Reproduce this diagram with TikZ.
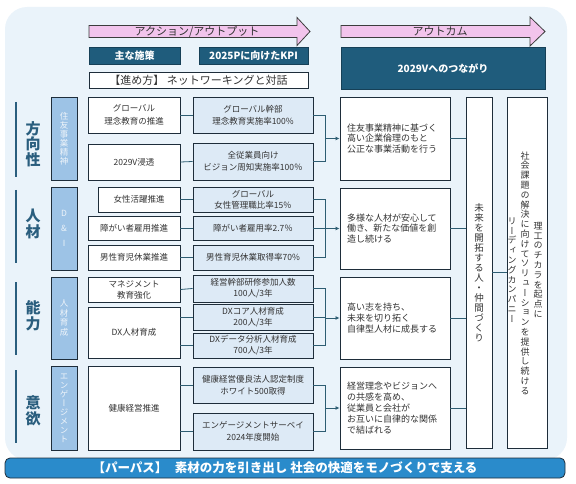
\documentclass[tikz,border=0pt]{standalone}
\usepackage{fontspec}
\usepackage{graphicx}
\setmainfont{Noto Sans CJK JP}
\newfontfamily\vjp[RawFeature=+vert]{Noto Sans CJK JP}
\usetikzlibrary{arrows.meta}
\definecolor{bgc}{HTML}{EAF3FA}
\definecolor{pinkc}{HTML}{F2C4EC}
\definecolor{hdrc}{HTML}{1F5C7C}
\definecolor{bordc}{HTML}{1E2D3A}
\definecolor{kpic}{HTML}{DDEAF6}
\definecolor{labc}{HTML}{9DC3E6}
\definecolor{labtxt}{HTML}{EEF4FA}
\definecolor{connc}{HTML}{2E5D72}
\definecolor{catc}{HTML}{2A5E7E}
\definecolor{barc}{HTML}{2A8BCB}
\definecolor{txtc}{HTML}{333333}
\definecolor{arrline}{HTML}{3C3C3C}
\newcommand\fz[2]{\fontsize{#1}{#2}\selectfont}
\makeatletter
\newcommand\vtxt[2]{\vbox{\baselineskip=#1\relax\lineskiplimit=-100pt\relax\@tfor\vt@c:=#2\do{\hbox to 1em{\hss\vt@c\hss}}}}
\makeatother
\tikzset{
 box/.style={draw=bordc, line width=0.9pt, inner sep=1pt, align=center, text=txtc},
 act/.style={box, fill=white, font=\fz{8.5}{12.5}},
 kpi/.style={box, fill=kpic, font=\fz{8.5}{12}},
 outbox/.style={box, fill=white, align=left, text width=96, inner xsep=7, font=\fz{9}{10.8}},
 lab/.style={draw=bordc, line width=0.9pt, fill=labc, inner sep=0, text=labtxt, minimum width=26},
 hdr/.style={fill=hdrc, draw=hdrc!70!black, line width=0.6pt, text=white, font=\bfseries\fz{10}{12}, inner sep=0},
 conn/.style={draw=connc, line width=0.8pt},
 arr/.style={conn, -{Latex[length=4pt,width=4pt]}},
 cat/.style={text=catc, font=\bfseries\fz{15}{15.5}, inner sep=0},
 catline/.style={draw=catc, line width=1.2pt},
 pinkarrow/.style={fill=pinkc, draw=arrline, line width=0.8pt},
}
\begin{document}
\begin{tikzpicture}[x=1pt,y=-1pt]
\useasboundingbox (0,0) rectangle (576,484);
\fill[bgc, rounded corners=22] (5,7) rectangle (567,460);

% pink arrows
\filldraw[pinkarrow] (89,25.5) -- (297,25.5) -- (297,17.5) -- (310,31.5) -- (297,45.5) -- (297,37.5) -- (89,37.5) -- cycle;
\node[font=\fz{11}{12}, text=txtc] (ar1) at (197,31.5) {アクション/アウトプット};
\filldraw[pinkarrow] (341,25.5) -- (530,25.5) -- (530,17) -- (545,31.5) -- (530,46) -- (530,37.5) -- (341,37.5) -- cycle;
\node[font=\fz{11}{12}, text=txtc] (ar2) at (440,31.5) {アウトカム};

% headers
\node[hdr, minimum width=91, minimum height=17] (h1) at (134.5,55.5) {主な施策};
\node[hdr, minimum width=109, minimum height=17] (h2) at (253.5,55.5) {2025Pに向けたKPI};
\node[hdr, minimum width=204, minimum height=42] (h3) at (443,68) {2029Vへのつながり};
\node[box, fill=white, minimum width=219, minimum height=16, font=\fz{11}{12}] (way) at (198.5,80) {【進め方】 ネットワーキングと対話};

% categories
\draw[catline] (16,102) -- (16,177);
\node[cat] (c1) at (33,144) {\vtxt{15.5pt}{方向性}};
\draw[catline] (16,190) -- (16,263);
\node[cat] (c2) at (33,224) {\vtxt{15.5pt}{人材}};
\draw[catline] (16,282) -- (16,355);
\node[cat] (c3) at (33,316) {\vtxt{15.5pt}{能力}};
\draw[catline] (16,370) -- (16,443);
\node[cat] (c4) at (33,411) {\vtxt{15.5pt}{意欲}};

% label boxes
\node[lab, minimum height=83] (l1) at (64,138.5) {\vjp\fz{8.5}{9}\vtxt{9pt}{住友事業精神}};
\node[lab, minimum height=83] (l2) at (64,228.5) {\fz{8.5}{9}\vtxt{15pt}{D\&I}};
\node[lab, minimum height=82] (l3) at (64,318) {\vjp\fz{8.5}{9}\vtxt{9.5pt}{人材育成}};
\node[lab, minimum height=84] (l4) at (64,408) {\vjp\fz{8.5}{9}\vtxt{9pt}{エンゲージメント}};

% action boxes
\node[act, minimum width=92, minimum height=36] (a1) at (134,115) {グローバル\\理念教育の推進};
\node[act, minimum width=92, minimum height=36] (a2) at (134,162) {2029V浸透};
\node[act, minimum width=82, minimum height=25] (a3) at (139,199.5) {女性活躍推進};
\node[act, minimum width=92, minimum height=24] (a4) at (134,228) {障がい者雇用推進};
\node[act, minimum width=92, minimum height=25] (a5) at (134,257.5) {男性育児休業推進};
\node[act, minimum width=92, minimum height=25, font=\fz{8.5}{11}] (a6) at (134,289.5) {マネジメント\\教育強化};
\node[act, minimum width=92, minimum height=51] (a7) at (134,332.5) {DX人材育成};
\node[act, minimum width=92, minimum height=84] (a8) at (134,408) {健康経営推進};

% KPI boxes
\node[kpi, minimum width=120, minimum height=36] (k1) at (253,115) {グローバル幹部\\理念教育実施率100\%};
\node[kpi, minimum width=120, minimum height=37] (k2) at (253,161.5) {全従業員向け\\ビジョン周知実施率100％};
\node[kpi, minimum width=120, minimum height=25, font=\fz{8.5}{11}] (k3) at (253,199.5) {グローバル\\女性管理職比率15％};
\node[kpi, minimum width=120, minimum height=24] (k4) at (253,228) {障がい者雇用率2.7％};
\node[kpi, minimum width=120, minimum height=25] (k5) at (253,257.5) {男性育児休業取得率70\%};
\node[kpi, minimum width=120, minimum height=27, font=\fz{8.5}{11}] (k6) at (253,288.5) {経営幹部研修参加人数\\100人/3年};
\node[kpi, minimum width=120, minimum height=26, font=\fz{8.5}{11}] (k7) at (253,317) {DXコア人材育成\\200人/3年};
\node[kpi, minimum width=120, minimum height=25, font=\fz{8.5}{11}] (k8) at (253,345.5) {DXデータ分析人材育成\\700人/3年};
\node[kpi, minimum width=120, minimum height=36] (k9) at (253,385) {健康経営優良法人認定制度\\ホワイト500取得};
\node[kpi, minimum width=120, minimum height=37] (k10) at (253,431.5) {エンゲージメントサーベイ\\2024年度開始};

% outcome boxes
\node[outbox, minimum width=110, minimum height=83] (o1) at (395,138.5) {住友事業精神に基づく\\高い企業倫理のもと\\公正な事業活動を行う};
\node[outbox, minimum width=110, minimum height=81] (o2) at (395,228.5) {多様な人材が安心して\\働き、新たな価値を創\\造し続ける};
\node[outbox, minimum width=110, minimum height=82] (o3) at (395,318) {高い志を持ち、\\未来を切り拓く\\自律型人材に成長する};
\node[outbox, minimum width=110, minimum height=82] (o4) at (395,408) {経営理念やビジョンへ\\の共感を高め、\\従業員と会社が\\お互いに自律的な関係\\で結ばれる};

% tall boxes
\node[box, fill=white, minimum width=26, minimum height=351] (t1) at (479,272.5) {\vjp\fz{9.5}{10}\vtxt{10pt}{未来を開拓する人・仲間づくり}};
\node[box, fill=white, minimum width=40, minimum height=351] (t2) at (527,272.5) {};
\node[inner sep=0, text=txtc] (t2a) at (538,270) {\vjp\fz{9}{9.8}\vtxt{9.8pt}{理工のチカラを起点に}};
\node[inner sep=0, text=txtc] (t2b) at (525,273) {\vjp\fz{9}{9.8}\vtxt{9.8pt}{社会課題の解決に向けてソリューションを提供し続ける}};
\node[inner sep=0, text=txtc] (t2c) at (512,270) {\vjp\fz{9}{9.8}\vtxt{9.8pt}{リーディングカンパニー}};

% action -> KPI connectors
\draw[conn] (a1.east) -- (k1.west);
\draw[conn] (a2.east) -- (k2.west);
\draw[conn] (a3.east) -- (k3.west);
\draw[conn] (a4.east) -- (k4.west);
\draw[conn] (a5.east) -- (k5.west);
\draw[conn] (a6.east) -- (k6.west);
\draw[conn] (a7.east |- k7.west) -- (k7.west);
\draw[conn] (a7.east |- k8.west) -- (k8.west);
\draw[conn] (a8.east |- k9.west) -- (k9.west);
\draw[conn] (a8.east |- k10.west) -- (k10.west);

% brackets KPI -> outcome
\coordinate (bx) at (325,0);
\draw[conn] (k1.east) -- (k1.east -| bx) -- (k2.east -| bx) -- (k2.east);
\draw[arr] (o1.west -| bx) -- (o1.west);
\draw[conn] (k3.east) -- (k3.east -| bx) -- (k5.east -| bx) -- (k5.east);
\draw[conn] (k4.east) -- (k4.east -| bx);
\draw[arr] (o2.west -| bx) -- (o2.west);
\draw[conn] (k6.east) -- (k6.east -| bx) -- (k8.east -| bx) -- (k8.east);
\draw[conn] (k7.east) -- (k7.east -| bx);
\draw[arr] (o3.west -| bx) -- (o3.west);
\draw[conn] (k9.east) -- (k9.east -| bx) -- (k10.east -| bx) -- (k10.east);
\draw[arr] (o4.west -| bx) -- (o4.west);

% outcome -> tall boxes
\draw[conn] (o1.east) -- (o1.east -| t1.west);
\draw[conn] (o2.east) -- (o2.east -| t1.west);
\draw[conn] (o3.east) -- (o3.east -| t1.west);
\draw[conn] (o4.east) -- (o4.east -| t1.west);
\draw[conn] (t1.east) -- (t2.west);

% purpose bar
\node[draw=bordc, line width=0.8pt, fill=barc, rounded corners=5, minimum width=560, minimum height=20, inner sep=0, text=white, font=\bfseries\fz{12.5}{14}] (bar) at (285,468) {【パーパス】\hspace{0.6em}素材の力を引き出し 社会の快適をモノづくりで支える};
\end{tikzpicture}
\end{document}
